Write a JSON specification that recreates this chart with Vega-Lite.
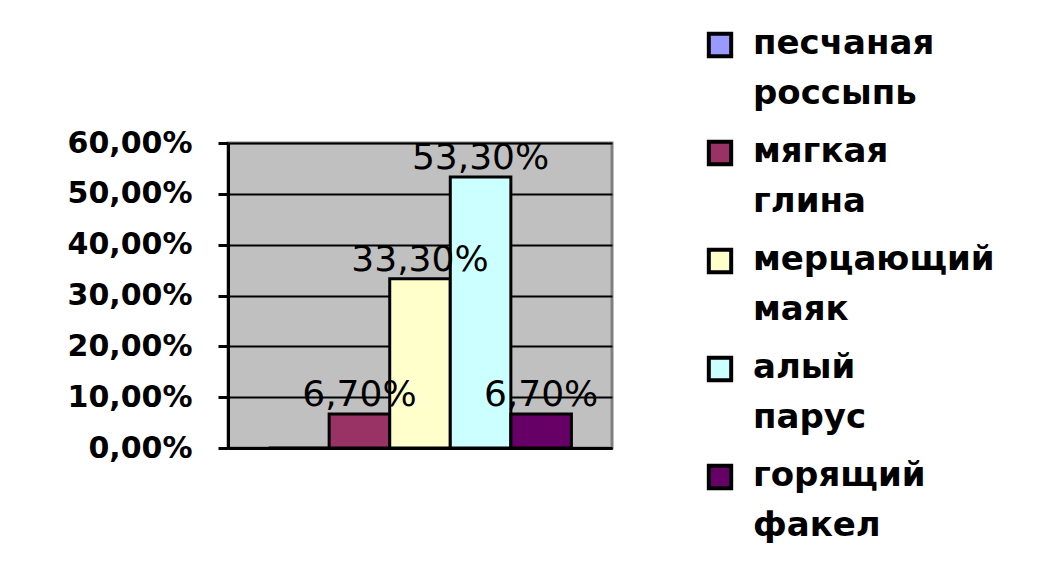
{
  "$schema": "https://vega.github.io/schema/vega-lite/v6.json",
  "width": 384,
  "height": 305,
  "autosize": "none",
  "padding": {"left": 228, "top": 143, "right": 429, "bottom": 127},
  "background": "white",
  "config": {
    "locale": {"number": {"decimal": ",", "thousands": " ", "grouping": [3], "currency": ["", " ₽"]}},
    "view": {"fill": "#C0C0C0", "stroke": "#808080", "strokeWidth": 3},
    "style": {"guide-label": {"lineHeight": 50}}
  },
  "data": {
    "values": [
      {"series": "песчаная россыпь", "value": 0},
      {"series": "мягкая глина", "value": 0.067},
      {"series": "мерцающий маяк", "value": 0.333},
      {"series": "алый парус", "value": 0.533},
      {"series": "горящий факел", "value": 0.067}
    ]
  },
  "encoding": {
    "x": {
      "field": "series", "type": "nominal", "sort": null,
      "scale": {"paddingInner": 0, "paddingOuter": 0.67},
      "axis": {"labels": false, "title": null, "ticks": false, "domainColor": "black", "domainWidth": 3}
    },
    "y": {
      "field": "value", "type": "quantitative",
      "scale": {"domain": [0, 0.6]},
      "axis": {
        "values": [0, 0.1, 0.2, 0.3, 0.4, 0.5, 0.6],
        "format": ".2%", "title": null,
        "labelFont": "DejaVu Sans", "labelFontSize": 30, "labelFontWeight": "bold", "labelColor": "black",
        "domainColor": "black", "domainWidth": 3,
        "tickColor": "black", "tickWidth": 3, "tickSize": 10, "labelPadding": 26,
        "grid": true, "gridColor": "black", "gridWidth": 2
      }
    }
  },
  "layer": [
    {
      "mark": {"type": "bar", "stroke": "black", "strokeWidth": 3},
      "encoding": {
        "color": {
          "field": "series", "type": "nominal", "sort": null,
          "scale": {
            "domain": ["песчаная россыпь", "мягкая глина", "мерцающий маяк", "алый парус", "горящий факел"],
            "range": ["#9999FF", "#993366", "#FFFFCC", "#CCFFFF", "#660066"]
          },
          "legend": {
            "orient": "none", "legendX": 475, "legendY": -115, "title": null, "direction": "vertical",
            "symbolType": "square", "symbolSize": 500, "symbolStrokeColor": "black", "symbolStrokeWidth": 4,
            "labelFont": "DejaVu Sans", "labelFontSize": 34, "labelFontWeight": "bold", "labelColor": "black",
            "labelLimit": 400, "labelExpr": "split(datum.label, ' ')", "labelBaseline": "top", "labelOffset": 16,
            "rowPadding": 22,
            "encoding": {"labels": {"dy": {"value": -18}}}
          }
        }
      }
    },
    {
      "transform": [{"filter": "datum.value > 0"}],
      "mark": {"type": "text", "baseline": "bottom", "font": "DejaVu Sans", "fontSize": 36, "fontWeight": "normal", "color": "black"},
      "encoding": {"text": {"field": "value", "type": "quantitative", "format": ".2%"}}
    }
  ]
}
